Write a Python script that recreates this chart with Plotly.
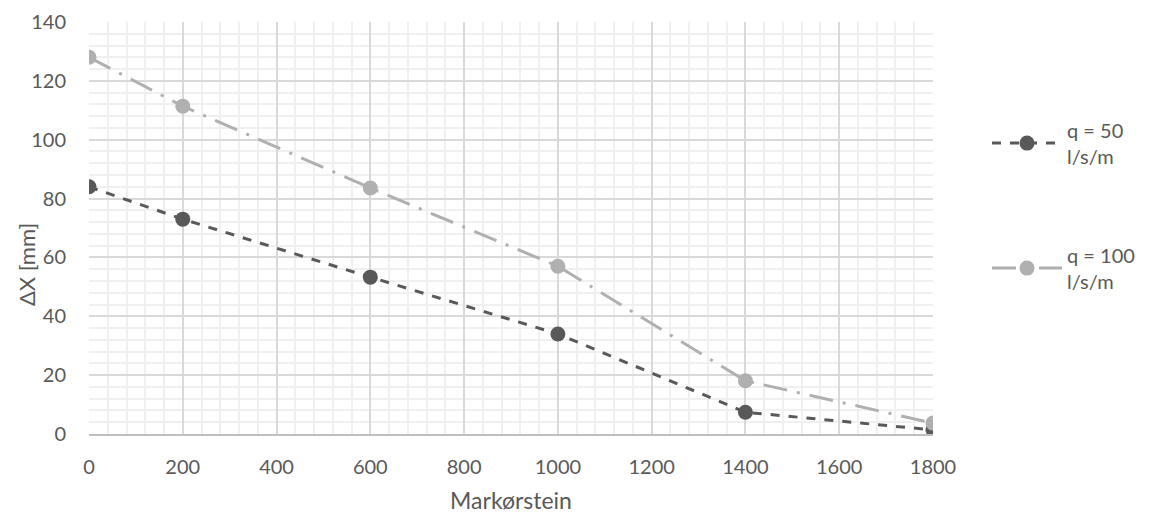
import plotly.graph_objects as go

x_vals = [0, 200, 600, 1000, 1400, 1800]
q50 = [84, 73, 53.3, 34, 7.4, 1.4]
q100 = [128, 111.4, 83.6, 57, 18.1, 3.7]
names = ["q = 50<br>l/s/m", "q = 100<br>l/s/m"]
y_title = "ΔX [mm]"
x_title = "Markørstein"

FONT = "Lato"
TXT = "#595959"

fig = go.Figure()
fig.add_trace(go.Scatter(
    x=x_vals, y=q50, name=names[0], mode="lines+markers",
    line=dict(color="#595959", width=3, dash="dash"),
    marker=dict(color="#595959", size=15),
    legendgroup="a",
))
fig.add_trace(go.Scatter(
    x=x_vals, y=q100, name=names[1], mode="lines+markers",
    line=dict(color="#b0b0b0", width=3, dash="24px,10px,3px,10px"),
    marker=dict(color="#b0b0b0", size=15),
    legendgroup="b",
))

fig.update_layout(
    width=1152, height=520,
    margin=dict(l=89, r=219, t=22, b=86, autoexpand=False),
    paper_bgcolor="white", plot_bgcolor="white",
    font=dict(family=FONT, color=TXT, size=20),
    legend=dict(x=1.064, y=0.785, xanchor="left", yanchor="top",
                traceorder="grouped", tracegroupgap=70, itemwidth=70,
                font=dict(size=20, color=TXT)),
    xaxis=dict(
        range=[0, 1800], tickmode="linear", tick0=0, dtick=200,
        showgrid=True, gridcolor="#d9d9d9", gridwidth=1.5,
        minor=dict(dtick=40, showgrid=True, gridcolor="#f0f0f0", gridwidth=1.5),
        showline=True, linecolor="#bfbfbf", linewidth=1.5,
        zeroline=False, ticks="", ticklabelstandoff=14, automargin=False,
        tickfont=dict(size=20),
        title=dict(text=x_title, font=dict(size=23, color=TXT), standoff=16),
    ),
    yaxis=dict(
        range=[0, 140], tickmode="linear", tick0=0, dtick=20,
        showgrid=True, gridcolor="#d9d9d9", gridwidth=1.5,
        minor=dict(dtick=4, showgrid=True, gridcolor="#f0f0f0", gridwidth=1.5),
        showline=False, zeroline=False, ticks="", ticklabelstandoff=22, automargin=False,
        tickfont=dict(size=20),
    ),
    annotations=[dict(
        text=y_title, textangle=-90, showarrow=False,
        xref="paper", yref="paper", x=-0.0746, y=0.41,
        xanchor="center", yanchor="middle",
        font=dict(size=22, color=TXT),
    )],
)

fig.write_html("out.html")
